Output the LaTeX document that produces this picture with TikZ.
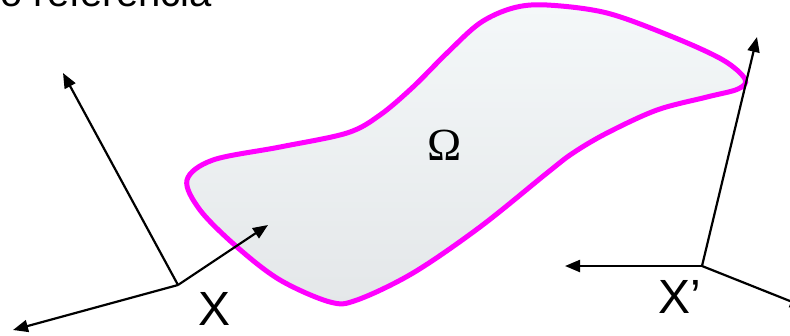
\documentclass[tikz,border=0pt]{standalone}
\usepackage{fontspec}
\setmainfont{Liberation Sans}
\newfontfamily\omegafont{Liberation Serif}
\usetikzlibrary{arrows.meta}
\definecolor{outline}{RGB}{255,0,255}
\definecolor{filltop}{RGB}{244,248,249}
\definecolor{fillbot}{RGB}{228,231,233}

\begin{document}
\begin{tikzpicture}[
    x=1pt, y=-1pt,
    % Styles
    axis arrow/.style={-{Triangle[length=15pt,width=12pt]}, line width=2.2pt, black},
    domain line/.style={draw=outline, line width=5pt, top color=filltop, bottom color=fillbot},
    axis label/.style={font=\fontsize{48}{48}\selectfont, anchor=base west, inner sep=0pt},
    omega label/.style={font=\omegafont\fontsize{46}{46}\selectfont, inner sep=0pt}
]
\clip (0,0) rectangle (790,335);

% Title, cut at the top edge
\node[font=\fontsize{40}{40}\selectfont, anchor=base east, inner sep=0pt] (title) at (212,6) {o referencia};

% Domain
\path[domain line] plot[smooth cycle, tension=0.55] coordinates {
    (187,180) (213,160) (280,147) (347,133) (380,115) (413,87) (447,53)
    (480,23) (513,8) (547,5) (607,13) (673,37) (723,60) (745,79)
    (738,89) (707,97) (657,110) (607,133) (573,153) (547,173) (480,227)
    (413,273) (357,300) (330,302) (280,280) (237,247) (200,210)};
\node[omega label] (omega) at (445,145) {Ω};

% Frame X
\coordinate (o1) at (178,285);
\coordinate (x1) at (13,330);
\coordinate (x2) at (63,73);
\coordinate (x3) at (268,225);
\draw[axis arrow] (o1) -- (x1);
\draw[axis arrow] (o1) -- (x2);
\draw[axis arrow] (o1) -- (x3);
\node[axis label] (lx) at (198,325) {X};

% Frame X'
\coordinate (o2) at (702,266);
\coordinate (y1) at (565,266);
\coordinate (y2) at (757,37);
\coordinate (y3) at (805,307);
\draw[axis arrow] (o2) -- (y1);
\draw[axis arrow] (o2) -- (y2);
\draw[axis arrow] (o2) -- (y3);
\node[axis label] (lxp) at (658,313) {X’};

\end{tikzpicture}
\end{document}
